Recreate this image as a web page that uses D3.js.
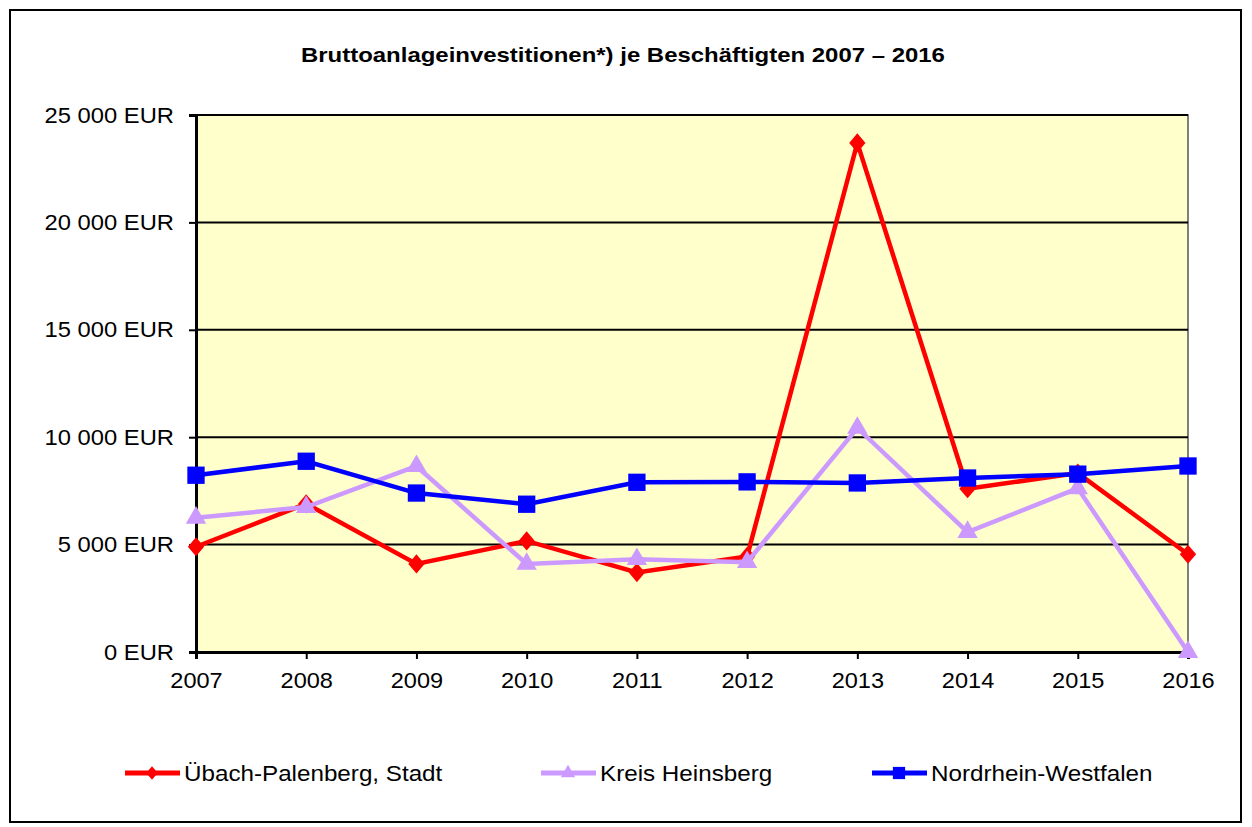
<!DOCTYPE html>
<html>
<head>
<meta charset="utf-8">
<script src="https://cdn.jsdelivr.net/npm/d3@7"></script>
<style>
  body { margin: 0; background: #fff; }
  text { font-family: "Liberation Sans", Arial, sans-serif; fill: #000; }
</style>
</head>
<body>
<svg id="chart"></svg>
<script>
var years = ["2007","2008","2009","2010","2011","2012","2013","2014","2015","2016"];
var uebach = [4900, 6900, 4100, 5170, 3700, 4450, 23700, 7600, 8330, 4550];
var heinsberg = [6250, 6750, 8650, 4100, 4320, 4180, 10430, 5580, 7620, 0];
var nrw = [8230, 8880, 7400, 6880, 7900, 7920, 7870, 8100, 8280, 8660];
var yTicks = [0, 5000, 10000, 15000, 20000, 25000];

var width = 1252, height = 827;
var plotL = 196, plotR = 1188, plotT = 115, plotB = 652;

var svg = d3.select("#chart").attr("width", width).attr("height", height);

// stretch text horizontally (the original font renders wider)
function stretch(sel, f){
  sel.each(function(){
    var w = this.getComputedTextLength();
    d3.select(this).attr("textLength", w * f).attr("lengthAdjust", "spacingAndGlyphs");
  });
}

// outer frame
svg.append("rect")
  .attr("x", 10).attr("y", 10)
  .attr("width", 1231).attr("height", 812)
  .attr("fill", "#fff").attr("stroke", "#000").attr("stroke-width", 2);

var x = d3.scalePoint().domain(years).range([plotL, plotR]);
var y = d3.scaleLinear().domain([0, 25000]).range([plotB, plotT]);

// plot area
svg.append("rect")
  .attr("x", plotL).attr("y", plotT)
  .attr("width", plotR - plotL).attr("height", plotB - plotT)
  .attr("fill", "#FFFFCC").attr("stroke", "#555").attr("stroke-width", 1.5);

// grid
svg.append("g").selectAll("line")
  .data(yTicks.filter(d => d > 0))
  .enter().append("line")
    .attr("x1", plotL).attr("x2", plotR)
    .attr("y1", d => y(d)).attr("y2", d => y(d))
    .attr("stroke", "#000").attr("stroke-width", 2);

var fmt = d => d3.format(",")(d).replace(/,/g, " ") + " EUR";

var yAxis = svg.append("g")
  .attr("transform", `translate(${plotL},0)`)
  .call(d3.axisLeft(y).tickValues(yTicks).tickFormat(fmt).tickSize(7).tickPadding(15));
yAxis.select(".domain").attr("stroke", "#000").attr("stroke-width", 3);
yAxis.selectAll(".tick line").attr("stroke", "#000").attr("stroke-width", 2);
yAxis.selectAll("text").style("font-size", "22px").attr("fill", "#000");
stretch(yAxis.selectAll("text"), 1.08);

var xAxis = svg.append("g")
  .attr("transform", `translate(0,${plotB})`)
  .call(d3.axisBottom(x).tickSize(7).tickPadding(13));
xAxis.select(".domain").attr("stroke", "#000").attr("stroke-width", 3);
xAxis.selectAll(".tick line").attr("stroke", "#000").attr("stroke-width", 2);
xAxis.selectAll("text").style("font-size", "22px").attr("fill", "#000");
stretch(xAxis.selectAll("text"), 1.07);

// title
var title = svg.append("text")
  .attr("x", 623).attr("y", 62)
  .attr("text-anchor", "middle")
  .style("font-size", "21px").style("font-weight", "bold")
  .text("Bruttoanlageinvestitionen*) je Beschäftigten 2007 – 2016");
stretch(title, 1.14);

// diamond taller than wide
var diamond = {
  draw: function(ctx, size){
    var h = Math.sqrt(size) * 0.62, w = h * 0.85;
    ctx.moveTo(0, -h); ctx.lineTo(w, 0); ctx.lineTo(0, h); ctx.lineTo(-w, 0); ctx.closePath();
  }
};

var series = [
  {name: "Übach-Palenberg, Stadt", values: uebach, color: "#FF0000", symbol: diamond, size: 240, lsize: 120, lx: 125},
  {name: "Kreis Heinsberg", values: heinsberg, color: "#CC99FF", symbol: d3.symbolTriangle, size: 180, lsize: 90, lx: 541},
  {name: "Nordrhein-Westfalen", values: nrw, color: "#0000FF", symbol: d3.symbolSquare, size: 300, lsize: 150, lx: 872}
];

var line = d3.line().x((d, i) => x(years[i])).y(d => y(d));

series.forEach(function(s){
  var g = svg.append("g");
  g.append("path")
    .attr("d", line(s.values))
    .attr("fill", "none").attr("stroke", s.color).attr("stroke-width", 4.5)
    .attr("stroke-linejoin", "miter");
  g.selectAll("path.pt")
    .data(s.values)
    .enter().append("path")
      .classed("pt", true)
      .attr("transform", (d, i) => `translate(${x(years[i])},${y(d)})`)
      .attr("d", d3.symbol().type(s.symbol).size(s.size))
      .attr("fill", s.color);

  // legend
  var ly = 773;
  svg.append("line")
    .attr("x1", s.lx).attr("x2", s.lx + 55)
    .attr("y1", ly).attr("y2", ly)
    .attr("stroke", s.color).attr("stroke-width", 5);
  svg.append("path")
    .attr("transform", `translate(${s.lx + 27},${ly})`)
    .attr("d", d3.symbol().type(s.symbol).size(s.lsize))
    .attr("fill", s.color);
  var t = svg.append("text")
    .attr("x", s.lx + 59).attr("y", ly + 8)
    .style("font-size", "22px")
    .text(s.name);
  stretch(t, 1.1);
});
</script>
</body>
</html>
